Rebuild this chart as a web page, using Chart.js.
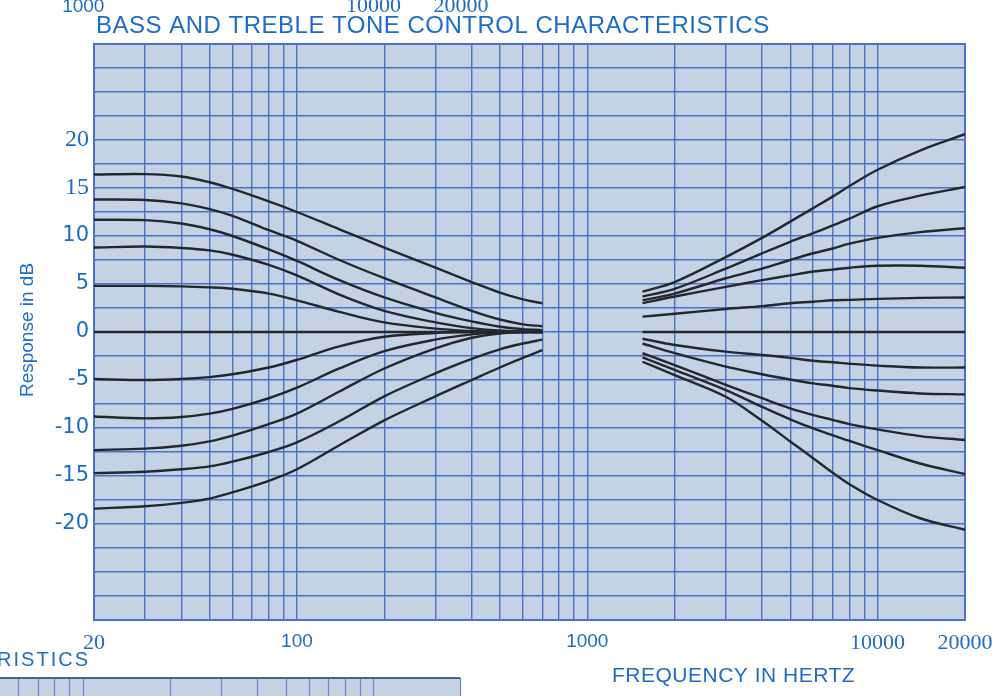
<!DOCTYPE html>
<html>
<head>
<meta charset="utf-8">
<title>Bass and Treble Tone Control Characteristics</title>
<script src="https://cdn.jsdelivr.net/npm/chart.js@4.4.1/dist/chart.umd.min.js"></script>
<style>
  html, body { margin: 0; padding: 0; background: #fff; }
  #wrap { position: relative; width: 1007px; height: 696px; }
</style>
</head>
<body>
<div id="wrap"><canvas id="toneChart"></canvas></div>
<script>
const bassFreq = [20, 30, 40, 50, 60, 80, 100, 140, 200, 300, 400, 500, 600, 700];
const trebleFreq = [1550, 2000, 3000, 4000, 5000, 6000, 7000, 8000, 10000, 14000, 20000];

// bass control positions (dB)
const bassBoost1 = [16.4, 16.45, 16.2, 15.6, 14.9, 13.6, 12.5, 10.7, 8.8, 6.7, 5.2, 4.1, 3.4, 3.0];
const bassBoost2 = [13.8, 13.75, 13.4, 12.8, 12.1, 10.6, 9.5, 7.5, 5.6, 3.6, 2.2, 1.3, 0.8, 0.6];
const bassBoost3 = [11.7, 11.65, 11.3, 10.7, 10.0, 8.6, 7.4, 5.4, 3.6, 2.0, 1.1, 0.55, 0.3, 0.2];
const bassBoost4 = [8.8, 8.9, 8.75, 8.5, 8.05, 7.0, 5.9, 3.9, 2.2, 1.0, 0.4, 0.15, 0.05, 0];
const bassBoost5 = [4.8, 4.8, 4.75, 4.65, 4.5, 4.0, 3.3, 2.1, 1.0, 0.35, 0.1, 0, 0, 0];
const bassFlat   = [0, 0, 0, 0, 0, 0, 0, 0, 0, 0, 0, 0, 0, 0];
const bassCut1   = [-4.9, -5.0, -4.9, -4.7, -4.4, -3.7, -2.9, -1.5, -0.5, -0.1, 0, 0, 0, 0];
const bassCut2   = [-8.8, -9.0, -8.85, -8.5, -8.0, -6.9, -5.8, -3.8, -2.0, -0.8, -0.25, -0.05, 0, 0];
const bassCut3   = [-12.3, -12.15, -11.85, -11.4, -10.8, -9.6, -8.5, -6.2, -3.8, -1.7, -0.6, -0.15, 0, 0];
const bassCut4   = [-14.7, -14.55, -14.3, -14.0, -13.5, -12.5, -11.5, -9.3, -6.7, -4.3, -2.8, -1.8, -1.2, -0.8];
const bassCut5   = [-18.4, -18.15, -17.8, -17.35, -16.7, -15.5, -14.3, -11.8, -9.2, -6.7, -5.0, -3.7, -2.7, -1.9];

// treble control positions (dB)
const trebleBoost1 = [4.2, 5.2, 7.8, 9.8, 11.5, 12.9, 14.1, 15.2, 16.9, 18.9, 20.6];
const trebleBoost2 = [3.7, 4.5, 6.6, 8.2, 9.4, 10.3, 11.1, 11.8, 13.1, 14.2, 15.1];
const trebleBoost3 = [3.3, 4.0, 5.6, 6.6, 7.5, 8.2, 8.7, 9.2, 9.8, 10.4, 10.8];
const trebleBoost4 = [3.0, 3.7, 4.7, 5.4, 5.9, 6.3, 6.5, 6.7, 6.9, 6.9, 6.7];
const trebleBoost5 = [1.6, 1.9, 2.4, 2.7, 3.0, 3.15, 3.3, 3.35, 3.45, 3.55, 3.6];
const trebleFlat   = [0, 0, 0, 0, 0, 0, 0, 0, 0, 0, 0];
const trebleCut1   = [-0.7, -1.35, -2.05, -2.4, -2.7, -3.0, -3.15, -3.3, -3.5, -3.7, -3.7];
const trebleCut2   = [-1.2, -2.2, -3.6, -4.4, -4.95, -5.35, -5.6, -5.85, -6.1, -6.4, -6.5];
const trebleCut3   = [-2.2, -3.45, -5.5, -6.9, -7.95, -8.65, -9.15, -9.6, -10.15, -10.85, -11.25];
const trebleCut4   = [-2.65, -3.95, -6.05, -7.8, -9.1, -10.05, -10.75, -11.35, -12.3, -13.7, -14.8];
const trebleCut5   = [-3.1, -4.5, -6.75, -9.25, -11.4, -13.15, -14.65, -15.85, -17.5, -19.4, -20.6];

// grid and tick labels
const xGridValues = [20, 30, 40, 50, 60, 70, 80, 90, 100, 200, 300, 400, 500, 600, 700, 800, 900,
  1000, 2000, 3000, 4000, 5000, 6000, 7000, 8000, 9000, 10000, 20000];
const xTickLabels = [20, 100, 1000, 10000, 20000];
const xSerifLabels = [20, 10000, 20000];
const yTickLabels = [20, 15, 10, 5, 0, -5, -10, -15, -20];
const ySerifLabels = [20, 15];
// stray labels from the neighbouring scan above the chart
const topEchoLabels = [1000, 10000, 20000];
// grid of the next chart peeking in at the bottom
const lowerPanelGrid = [6, 7, 8, 9, 10, 20, 30, 40, 50, 60, 70, 80, 90, 100, 200];

const BLUE_TEXT = "#1d6cc6";
const PAPER = "#c4d3e4";
const GRID = "#4d70c9";
const INK = "#24272d";
const SANS = "'Liberation Sans', Arial, sans-serif";
const SERIF = "'Liberation Serif', 'Times New Roman', serif";

const bassCurves = [bassBoost1, bassBoost2, bassBoost3, bassBoost4, bassBoost5, bassFlat,
  bassCut1, bassCut2, bassCut3, bassCut4, bassCut5];
const trebleCurves = [trebleBoost1, trebleBoost2, trebleBoost3, trebleBoost4, trebleBoost5, trebleFlat,
  trebleCut1, trebleCut2, trebleCut3, trebleCut4, trebleCut5];

function toDataset(freqs, values) {
  return {
    data: freqs.map((f, i) => ({ x: f, y: values[i] })),
    borderColor: INK,
    borderWidth: 2.4,
    pointRadius: 0,
    fill: false,
    tension: 0.35
  };
}

const datasets = bassCurves.map(c => toDataset(bassFreq, c))
  .concat(trebleCurves.map(c => toDataset(trebleFreq, c)));

// paper background, frame and the loose text of the scan
const paperPlugin = {
  id: "paper",
  beforeDraw(chart) {
    const { ctx, chartArea: a } = chart;
    ctx.save();
    ctx.fillStyle = PAPER;
    ctx.fillRect(a.left, a.top, a.right - a.left, a.bottom - a.top);
    ctx.restore();
  },
  beforeDatasetsDraw(chart) {
    const { ctx, chartArea: a } = chart;
    ctx.save();
    ctx.strokeStyle = "#4a72c8";
    ctx.lineWidth = 2;
    ctx.strokeRect(a.left, a.top, a.right - a.left, a.bottom - a.top);
    ctx.restore();
  },
  afterDraw(chart) {
    const { ctx } = chart;
    const xs = chart.scales.x;
    ctx.save();
    ctx.fillStyle = BLUE_TEXT;
    ctx.textBaseline = "alphabetic";

    // main title
    ctx.font = "24px " + SANS;
    ctx.textAlign = "left";
    ctx.letterSpacing = "0.5px";
    ctx.fillText("BASS AND TREBLE TONE CONTROL CHARACTERISTICS", 96, 33);

    // axis titles
    ctx.font = "21px " + SANS;
    ctx.fillText("FREQUENCY IN HERTZ", 612, 682);
    ctx.letterSpacing = "0px";

    ctx.save();
    ctx.translate(33, 330);
    ctx.rotate(-Math.PI / 2);
    ctx.textAlign = "center";
    ctx.font = "19px " + SANS;
    ctx.fillText("Response in dB", 0, 0);
    ctx.restore();

    // cut-off labels of the chart above
    ctx.textAlign = "center";
    topEchoLabels.forEach(v => {
      ctx.font = xSerifLabels.includes(v) ? "22px " + SERIF : "19px " + SANS;
      ctx.fillText(String(v), xs.getPixelForValue(v) - 504, 12);
    });

    // the next chart starting below
    ctx.textAlign = "right";
    ctx.font = "20px " + SANS;
    ctx.letterSpacing = "2px";
    ctx.fillText("RISTICS", 90, 666);
    ctx.letterSpacing = "0px";

    const top = 678, left = 0, right = xs.getPixelForValue(200) + 76;
    ctx.fillStyle = PAPER;
    ctx.fillRect(left, top, right - left, chart.height - top);
    ctx.strokeStyle = "#6b87c4";
    ctx.lineWidth = 1.2;
    lowerPanelGrid.forEach(v => {
      const px = Math.round(xs.getPixelForValue(v) + 76) + 0.5;
      ctx.beginPath();
      ctx.moveTo(px, top);
      ctx.lineTo(px, chart.height);
      ctx.stroke();
    });
    ctx.strokeStyle = "#4d5f86";
    ctx.lineWidth = 2;
    ctx.beginPath();
    ctx.moveTo(left, top);
    ctx.lineTo(right, top);
    ctx.stroke();
    ctx.restore();
  }
};

new Chart(document.getElementById("toneChart"), {
  type: "line",
  data: { datasets: datasets },
  options: {
    responsive: true,
    maintainAspectRatio: false,
    animation: false,
    layout: { padding: { top: 44, right: 42, left: 0, bottom: 0 } },
    plugins: {
      legend: { display: false },
      tooltip: { enabled: false },
      title: { display: false }
    },
    scales: {
      x: {
        type: "logarithmic",
        min: 20,
        max: 20000,
        afterBuildTicks: s => { s.ticks = xGridValues.map(v => ({ value: v })); },
        afterFit: s => { s.height = 76; },
        grid: { color: GRID, lineWidth: 1.4, drawTicks: false },
        border: { display: false },
        ticks: {
          autoSkip: false,
          maxRotation: 0,
          padding: 10,
          color: BLUE_TEXT,
          font: c => xSerifLabels.includes(c.tick && c.tick.value)
            ? { family: SERIF, size: 22 } : { family: SANS, size: 19 },
          callback: v => xTickLabels.includes(v) ? String(v) : ""
        }
      },
      y: {
        min: -30,
        max: 30,
        afterFit: s => { s.width = 94; },
        grid: { color: GRID, lineWidth: 1.4, drawTicks: false },
        border: { display: false },
        ticks: {
          stepSize: 2.5,
          autoSkip: false,
          padding: 5,
          color: BLUE_TEXT,
          font: c => ySerifLabels.includes(c.tick && c.tick.value)
            ? { family: SERIF, size: 24 } : { family: "'DejaVu Sans', sans-serif", size: 21 },
          callback: v => yTickLabels.includes(v) ? String(v) : ""
        }
      }
    }
  },
  plugins: [paperPlugin]
});
</script>
</body>
</html>
